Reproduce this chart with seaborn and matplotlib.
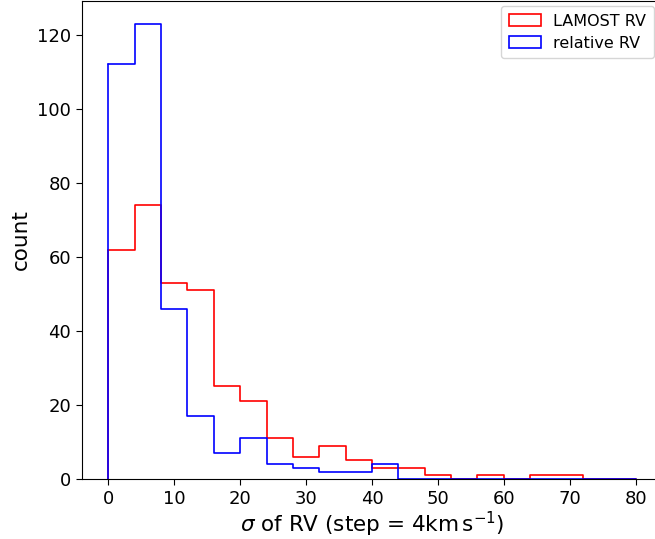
import numpy as np
import matplotlib
matplotlib.use("Agg")
import matplotlib.pyplot as plt
from matplotlib.patches import Patch
import seaborn as sns

# Histogram bin edges (step = 4 km/s) and counts per bin
bin_edges = list(range(0, 84, 4))
lamost_counts = [62, 74, 53, 51, 25, 21, 11, 6, 9, 5, 3, 3, 1, 0, 1, 0, 1, 1, 0, 0]
relative_counts = [112, 123, 46, 17, 7, 11, 4, 3, 2, 2, 4, 0, 0, 0, 0, 0, 0, 0, 0, 0]
series_labels = ["LAMOST RV", "relative RV"]
series_colors = ["red", "blue"]

sns.set_style("ticks", rc={
    "text.color": "black", "axes.labelcolor": "black",
    "xtick.color": "black", "ytick.color": "black",
    "axes.edgecolor": "black",
})
plt.rcParams["font.family"] = ["DejaVu Sans"]

fig = plt.figure(figsize=(6.55, 5.39), dpi=100)
ax = fig.add_axes([82 / 655, 60 / 539, (662 - 82) / 655, (538 - 60) / 539])

centers = [e + 2 for e in bin_edges[:-1]]
for counts, color in zip([lamost_counts, relative_counts], series_colors):
    sns.histplot(x=centers, weights=counts, bins=bin_edges, element="step",
                 fill=False, color=color, linewidth=1.2, ax=ax)
    # close the outline down to zero at both ends
    ax.plot([bin_edges[0], bin_edges[0]], [0, counts[0]], color=color, lw=1.2)
    ax.plot([bin_edges[-1], bin_edges[-1]], [0, counts[-1]], color=color, lw=1.2)

ax.set_xlim(-4, 84)
ax.set_ylim(0, max(relative_counts) * 1.05)
ax.set_xticks(range(0, 81, 10))
ax.set_yticks(range(0, 121, 20))
ax.tick_params(labelsize=13, length=4, width=0.8, color="black", pad=4)
for s in ax.spines.values():
    s.set_visible(True)
    s.set_color("black")
    s.set_linewidth(0.8)

ax.set_xlabel(r"$\sigma$ of RV (step = 4$\mathrm{km\,s^{-1}}$)", fontsize=15.5,
              labelpad=1)
ax.set_ylabel("count", fontsize=15.5)

handles = [Patch(facecolor="none", edgecolor=c, linewidth=1.2) for c in series_colors]
ax.legend(handles, series_labels, loc="upper right", fontsize=11.5, frameon=True,
          labelspacing=0.44, borderpad=0.47, borderaxespad=0, handlelength=2.0,
          bbox_to_anchor=(654 / 655, 1 - 6 / 539), bbox_transform=fig.transFigure)

fig.savefig("out.png", dpi=100)
